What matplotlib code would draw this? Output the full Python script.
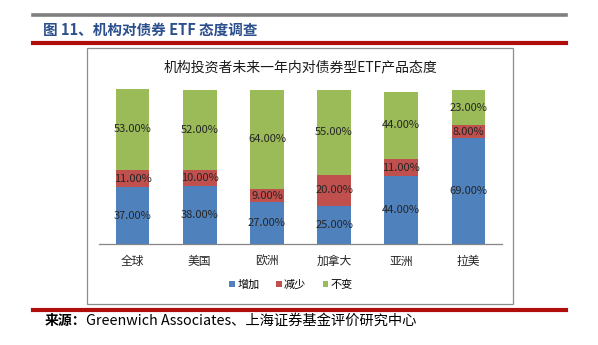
import matplotlib
matplotlib.use("Agg")
import matplotlib.pyplot as plt
from matplotlib.patches import Rectangle
from matplotlib.lines import Line2D
import numpy as np

plt.rcParams['font.family'] = ['Noto Sans CJK SC', 'DejaVu Sans']

# 数据
regions = ['全球', '美国', '欧洲', '加拿大', '亚洲', '拉美']
increase = [37, 38, 27, 25, 44, 69]
decrease = [11, 10, 9, 20, 11, 8]
unchanged = [53, 52, 64, 55, 44, 23]
series_names = ['增加', '减少', '不变']
colors = ['#4F81BD', '#C0504D', '#9BBB59']

W, H = 598, 345
fig = plt.figure(figsize=(W / 100, H / 100), dpi=100)

# 页眉线条和标题
fig.add_artist(Line2D([33 / W, 566 / W], [1 - 14.5 / H, 1 - 14.5 / H], color='#7F7F7F', lw=2.6))
fig.add_artist(Line2D([33 / W, 566 / W], [1 - 43 / H, 1 - 43 / H], color='#B00D0D', lw=3.0))
fig.add_artist(Line2D([33 / W, 566 / W], [1 - 310 / H, 1 - 310 / H], color='#B00D0D', lw=3.0))
fig.text(43 / W, 1 - 30 / H, '图 11、机构对债券 ETF 态度调查', color='#2B4E8C',
         fontsize=10.5, fontweight='bold', va='center', ha='left')

# 图表边框
fig.add_artist(Rectangle((87 / W, 1 - 304 / H), (513 - 87) / W, (304 - 48) / H,
                         transform=fig.transFigure, fill=False, ec='#8C8C8C', lw=0.9))

# 来源
fig.text(45 / W, 1 - 321 / H, '来源：', fontsize=10, fontweight='bold', va='center', ha='left')
fig.text(86 / W, 1 - 321 / H, 'Greenwich Associates、上海证券基金评价研究中心',
         fontsize=10.3, va='center', ha='left')

# 主图
ax = fig.add_axes([99 / W, 1 - 244 / H, (502 - 99) / W, 157 / H])
x = np.arange(len(regions))
bottom = np.zeros(len(regions))
for vals, c, name in zip([increase, decrease, unchanged], colors, series_names):
    vals = np.array(vals, dtype=float)
    ax.bar(x, vals, bottom=bottom, width=0.5, color=c, label=name, clip_on=False)
    for xi, v, bt in zip(x, vals, bottom):
        ax.text(xi, bt + v / 2, '%.2f%%' % v, ha='center', va='center',
                fontsize=8, color='#262626')
    bottom += vals

ax.set_xlim(-0.5, len(regions) - 0.5)
ax.set_ylim(0, 102)
ax.set_yticks([])
ax.set_xticks(x)
ax.set_xticklabels(regions, fontsize=8.5, color='#262626')
ax.tick_params(axis='x', length=0, pad=8)
for s in ['top', 'left', 'right']:
    ax.spines[s].set_visible(False)
ax.spines['bottom'].set_color('#868686')
ax.spines['bottom'].set_linewidth(0.9)
ax.patch.set_alpha(0)

# 图表标题
fig.text(300 / W, 1 - 67 / H, '机构投资者未来一年内对债券型ETF产品态度', fontsize=10,
         color='#1a1a1a', ha='center', va='center')

ax.legend(loc='center', bbox_to_anchor=(291 / W, 1 - 285 / H), bbox_transform=fig.transFigure,
          ncol=3, frameon=False, fontsize=8, handlelength=0.5, handleheight=0.5,
          handletextpad=0.2, columnspacing=1.5)

fig.savefig('out.png', dpi=100)
